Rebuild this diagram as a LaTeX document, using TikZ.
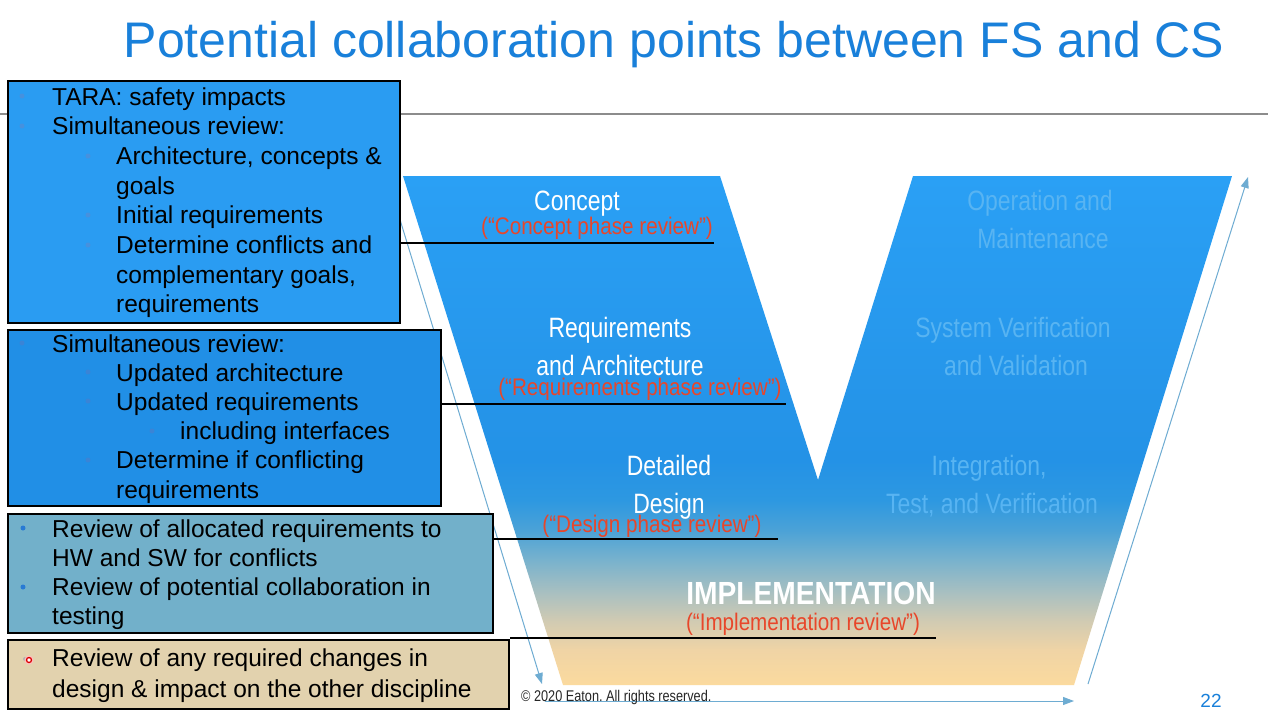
\documentclass[tikz,border=0pt]{standalone}
\usepackage{fontspec}
\setmainfont{Liberation Sans}
\newfontfamily\narrowf[FakeStretch=0.82]{Liberation Sans}
\newfontfamily\redf[FakeStretch=0.86]{Liberation Sans}
\newfontfamily\implf[FakeStretch=0.88]{Liberation Sans}
\usetikzlibrary{arrows.meta}
\definecolor{g0}{RGB}{251,218,158}
\definecolor{g1}{RGB}{240,212,165}
\definecolor{g2}{RGB}{210,203,178}
\definecolor{g3}{RGB}{170,192,192}
\definecolor{g4}{RGB}{120,178,205}
\definecolor{g5}{RGB}{75,162,215}
\definecolor{g6}{RGB}{45,152,225}
\definecolor{g7}{RGB}{36,146,230}
\definecolor{g8}{RGB}{42,160,245}
\definecolor{titleblue}{RGB}{25,128,218}
\definecolor{boxA}{RGB}{42,156,242}
\definecolor{boxB}{RGB}{33,143,230}
\definecolor{boxC}{RGB}{114,176,202}
\definecolor{boxD}{RGB}{226,210,174}
\definecolor{bulA}{RGB}{70,145,222}
\definecolor{bulB}{RGB}{58,132,214}
\definecolor{bulC}{RGB}{40,122,212}
\definecolor{reviewred}{RGB}{232,70,42}
\definecolor{fadeblue}{RGB}{88,180,242}
\definecolor{arrowblue}{RGB}{110,172,210}
\definecolor{rulegray}{RGB}{140,140,140}
\pgfdeclareverticalshading{vgrad}{100bp}{color(0bp)=(g0); color(25bp)=(g0); color(28.4bp)=(g1); color(31.2bp)=(g2); color(34bp)=(g3); color(37.3bp)=(g4); color(40.2bp)=(g5); color(43.2bp)=(g6); color(47.1bp)=(g7); color(75bp)=(g8); color(100bp)=(g8)}
\frenchspacing
\begin{document}
\begin{tikzpicture}[x=1pt,y=-1pt,
  box/.style={draw=black, line width=2.2pt, anchor=north west, inner sep=0pt},
  ln/.style={anchor=base west, inner sep=0pt, font=\fontsize{24.5}{29}\selectfont, text=black},
  dot/.style={circle, inner sep=0pt, minimum size=5pt},
  conn/.style={draw=black, line width=2.6pt},
  flow/.style={draw=arrowblue, line width=1pt, -{Triangle[length=11pt,width=8pt]}},
  vlab/.style={anchor=base, inner sep=0pt, text=white, font=\narrowf\fontsize{28}{34}\selectfont},
  rlab/.style={anchor=base, inner sep=0pt, text=fadeblue, font=\narrowf\fontsize{28}{34}\selectfont},
  rev/.style={anchor=base, inner sep=0pt, text=reviewred, font=\redf\fontsize{24}{28}\selectfont}]
\fill[white] (0,0) rectangle (1268,716);
\useasboundingbox (0,0) rectangle (1268,716);

% title and rule
\node[anchor=base, inner sep=0pt, text=titleblue, font=\fontsize{50}{56}\selectfont] (title) at (674,57) {Potential collaboration points between FS and CS};
\draw[rulegray, line width=1.6pt] (0,114) -- (1268,114);

% V shape
\shade[shading=vgrad] (403,176) -- (720,176) -- (818,480) -- (913,176) -- (1232,176) -- (1074,685) -- (563,685) -- cycle;

% flow arrows
\coordinate (la0) at (394,200);
\coordinate (la1) at (542,684);
\coordinate (ra0) at (1088,684);
\coordinate (ra1) at (1248,177);
\coordinate (ba0) at (545,701);
\coordinate (ba1) at (1074,701);
\draw[flow] (la0) -- (la1);
\draw[flow] (ra0) -- (ra1);
\draw[flow] (ba0) -- (ba1);

% boxes
\node[box, fill=boxA, minimum width=392pt, minimum height=242pt] (box1) at (7,80) {};
\node[box, fill=boxB, minimum width=433pt, minimum height=176pt] (box2) at (7,329) {};
\node[box, fill=boxC, minimum width=485pt, minimum height=119pt] (box3) at (7,513) {};
\node[box, fill=boxD, minimum width=501pt, minimum height=69pt] (box4) at (7,639) {};

% box 1 text
\node[dot, fill=bulA] (b1a) at (22,96) {};
\node[ln] (t1a) at (52,105) {TARA: safety impacts};
\node[dot, fill=bulA] (b1b) at (22,126) {};
\node[ln] (t1b) at (52,134.7) {Simultaneous review:};
\node[dot, fill=bulA] (b1c) at (88,156) {};
\node[ln] (t1c) at (116,164.4) {Architecture, concepts \&};
\node[ln] (t1d) at (116,194.1) {goals};
\node[dot, fill=bulA] (b1e) at (88,215) {};
\node[ln] (t1e) at (116,223.8) {Initial requirements};
\node[dot, fill=bulA] (b1f) at (88,245) {};
\node[ln] (t1f) at (116,253.5) {Determine conflicts and};
\node[ln] (t1g) at (116,283.2) {complementary goals,};
\node[ln] (t1h) at (116,312.9) {requirements};

% box 2 text
\node[dot, fill=bulB] (b2a) at (22,343) {};
\node[ln] (t2a) at (52,352) {Simultaneous review:};
\node[dot, fill=bulB] (b2b) at (88,372) {};
\node[ln] (t2b) at (116,381.2) {Updated architecture};
\node[dot, fill=bulB] (b2c) at (88,401) {};
\node[ln] (t2c) at (116,410.4) {Updated requirements};
\node[dot, fill=bulB] (b2d) at (152,431) {};
\node[ln] (t2d) at (180,439.6) {including interfaces};
\node[dot, fill=bulB] (b2e) at (88,460) {};
\node[ln] (t2e) at (116,468.8) {Determine if conflicting};
\node[ln] (t2f) at (116,498) {requirements};

% box 3 text
\node[dot, fill=bulC] (b3a) at (23,528) {};
\node[ln] (t3a) at (52,537) {Review of allocated requirements to};
\node[ln] (t3b) at (52,566.3) {HW and SW for conflicts};
\node[dot, fill=bulC] (b3c) at (23,587) {};
\node[ln] (t3c) at (52,595.6) {Review of potential collaboration in};
\node[ln] (t3d) at (52,624.9) {testing};

% box 4 text
\node[dot, fill=gray!60, minimum size=4pt] (b4g) at (25,659) {};
\node[dot, fill=red!25, minimum size=9pt] (b4h) at (29,660) {};
\node[dot, draw=red!85!black, line width=1.3pt, fill=white, minimum size=5pt] (b4a) at (29,660) {};
\node[ln] (t4a) at (52,666) {Review of any required changes in};
\node[ln] (t4b) at (52,697) {design \& impact on the other discipline};

% V labels (left arm)
\node[vlab] (concept) at (577,210) {Concept};
\node[rev] (rconcept) at (597,234) {(“Concept phase review”)};
\node[vlab] (req1) at (620,337) {Requirements};
\node[vlab] (req2) at (620,375) {and Architecture};
\node[rev] (rreq) at (640,395) {(“Requirements phase review”)};
\node[vlab] (det1) at (669,475) {Detailed};
\node[vlab] (det2) at (669,513) {Design};
\node[rev] (rdes) at (652,532) {(“Design phase review”)};
\node[anchor=base, inner sep=0pt, text=white, font=\implf\bfseries\fontsize{32}{36}\selectfont] (impl) at (811,604) {IMPLEMENTATION};
\node[rev] (rimpl) at (803,630) {(“Implementation review”)};

% V labels (right arm)
\node[rlab] (op1) at (1040,210) {Operation and};
\node[rlab] (op2) at (1043,248) {Maintenance};
\node[rlab] (sv1) at (1013,337) {System Verification};
\node[rlab] (sv2) at (1016,375) {and Validation};
\node[rlab] (it1) at (989,475) {Integration,};
\node[rlab] (it2) at (992,513) {Test, and Verification};

% connectors
\coordinate (c1) at (714,243);
\coordinate (c2) at (786,404);
\coordinate (c3) at (778,539);
\coordinate (c4) at (936,638);
\draw[conn] (c1 -| box1.east) -- (c1);
\draw[conn] (c2 -| box2.east) -- (c2);
\draw[conn] (c3 -| box3.east) -- (c3);
\draw[conn] (c4 -| box4.east) -- (c4);

% footer
\node[anchor=base west, inner sep=0pt, text=black!85, font=\narrowf\fontsize{15.5}{18}\selectfont] (copy) at (521,701) {© 2020 Eaton. All rights reserved.};
\node[anchor=base, inner sep=0pt, text=titleblue, font=\fontsize{19}{22}\selectfont] (pnum) at (1211,707) {22};
\end{tikzpicture}
\end{document}
